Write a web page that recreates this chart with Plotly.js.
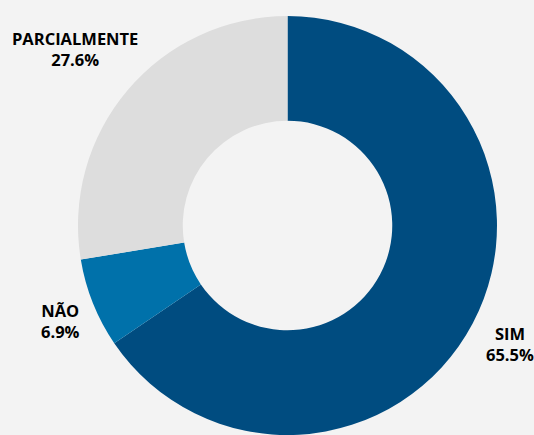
<!DOCTYPE html>
<html>
<head>
<meta charset="utf-8">
<script src="https://cdn.plot.ly/plotly-3.0.1.min.js"></script>
<style>html,body{margin:0;padding:0;background:#f3f3f3;overflow:hidden}</style>
</head>
<body>
<div id="chart" style="width:534px;height:435px"></div>
<script>
const labels = ["SIM", "NÃO", "PARCIALMENTE"];
const values = [65.5, 6.9, 27.6];
const colors = ["#004c80", "#0071aa", "#dddddd"];

// label placement (pixel positions of label block centres)
const W = 534, H = 435;
const M = {l: 41, r: 0, t: 16, b: 0};
const labelPos = [[510, 344], [60, 321], [75, 49]];

const total = values.reduce((a, b) => a + b, 0);
const px2x = px => (px - M.l) / (W - M.l - M.r);
const py2y = py => 1 - (py - M.t) / (H - M.t - M.b);
const font = {family: "Open Sans", size: 16.5, color: "#000000"};
const annotations = labels.map((lab, i) => ({
  xref: "paper", yref: "paper",
  x: px2x(labelPos[i][0]), y: py2y(labelPos[i][1]),
  xanchor: "center", yanchor: "middle", align: "center",
  text: "<b>" + lab + "</b><br><b>" + (values[i] / total * 100).toFixed(1) + "%</b>",
  showarrow: false, font: font
}));

Plotly.newPlot("chart", [{
  type: "pie",
  labels: labels,
  values: values,
  hole: 0.5,
  sort: false,
  direction: "clockwise",
  rotation: 0,
  marker: {colors: colors, line: {width: 0}},
  textinfo: "none",
  showlegend: false
}], {
  width: W,
  height: H,
  margin: M,
  paper_bgcolor: "#f3f3f3",
  plot_bgcolor: "#f3f3f3",
  showlegend: false,
  annotations: annotations
}, {displayModeBar: false, staticPlot: true});
</script>
</body>
</html>
